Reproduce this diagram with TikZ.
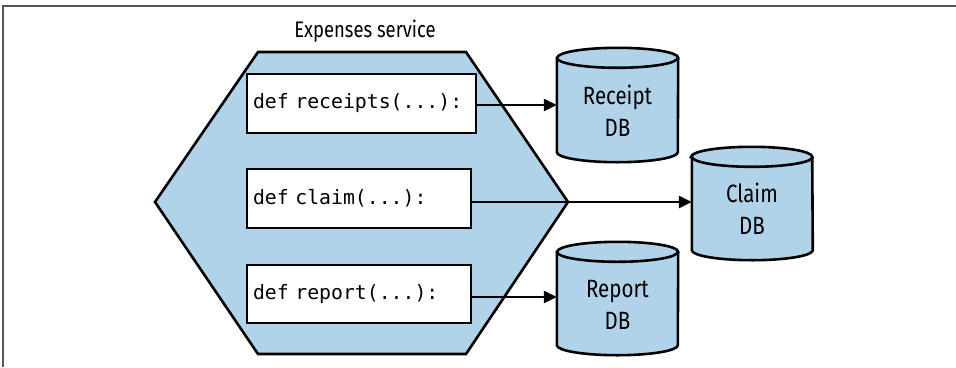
\documentclass[tikz,border=0pt]{standalone}
\usepackage{fontspec}
\setmainfont{Fira Sans}[FakeStretch=0.82]
\setmonofont{DejaVu Sans Mono}
\usetikzlibrary{arrows.meta,calc}
\definecolor{svcblue}{HTML}{B1D3EA}
\definecolor{framegray}{HTML}{555555}
\tikzset{
  x=1pt,y=-1pt,
  outline/.style={draw=black,line width=2.6pt,line join=miter},
  codebox/.style={outline,fill=white,inner xsep=6pt,inner ysep=0pt,
    font=\ttfamily\fontsize{19.8}{22}\selectfont,align=left,anchor=center},
  dbtext/.style={inner sep=0pt,align=center,
    font=\fontsize{25}{32}\selectfont},
  flow/.style={draw=black,line width=2.6pt,-{Triangle[length=13pt,width=12pt]}},
}
\newcommand{\dbcyl}[1]{%
  \path[outline,fill=svcblue]
    ($(#1.north west)+(0,10)$) -- ($(#1.south west)+(0,-10)$)
    arc[start angle=180,end angle=360,x radius=60.5pt,y radius=10pt]
    -- ($(#1.north east)+(0,10)$)
    arc[start angle=0,end angle=-180,x radius=60.5pt,y radius=-10pt]
    -- cycle;
  \draw[outline] ($(#1.north west)+(0,10)$)
    arc[start angle=180,end angle=360,x radius=60.5pt,y radius=10pt];
}
\begin{document}
\begin{tikzpicture}
\useasboundingbox (0,0) rectangle (956,367);
% frame
\draw[framegray,line width=1.5pt] (3,367) -- (3,6) -- (956,6);
% hexagon
\coordinate (hl) at (155,202);
\coordinate (htl) at (258,52);
\coordinate (htr) at (466,52);
\coordinate (hr) at (568,202);
\coordinate (hbr) at (466,354);
\coordinate (hbl) at (258,354);
\draw[outline,fill=svcblue] (hl) -- (htl) -- (htr) -- (hr) -- (hbr) -- (hbl) -- cycle;
\node[font=\fontsize{22.5}{24}\selectfont,inner sep=0pt] (svc) at (365,31) {Expenses service};
% code boxes
\node[codebox,text width=217pt,minimum height=59pt] (rec) at (361.5,103.5) {def receipts(...):};
\node[codebox,text width=212pt,minimum height=59pt] (clm) at (359,198.5) {def claim(...):};
\node[codebox,text width=212pt,minimum height=58pt] (rep) at (359,294) {def report(...):};
% databases
\node[dbtext,minimum width=121pt,minimum height=114pt] (rdb) at (617.5,105) {};
\node[dbtext,minimum width=120pt,minimum height=113pt] (cdb) at (752,203.5) {};
\node[dbtext,minimum width=121pt,minimum height=113pt] (pdb) at (617.5,298.5) {};
\dbcyl{rdb}
\dbcyl{cdb}
\dbcyl{pdb}
\node[dbtext] at (617.5,111) {Receipt\\DB};
\node[dbtext] at (752,209) {Claim\\DB};
\node[dbtext] at (617.5,305) {Report\\DB};
% arrows
\draw[flow] (rec.east |- 0,105) -- (rdb.west |- 0,105);
\draw[flow] (clm.east |- 0,202) -- (cdb.west |- 0,202);
\draw[flow] (rep.east |- 0,297) -- (pdb.west |- 0,297);
\end{tikzpicture}
\end{document}
